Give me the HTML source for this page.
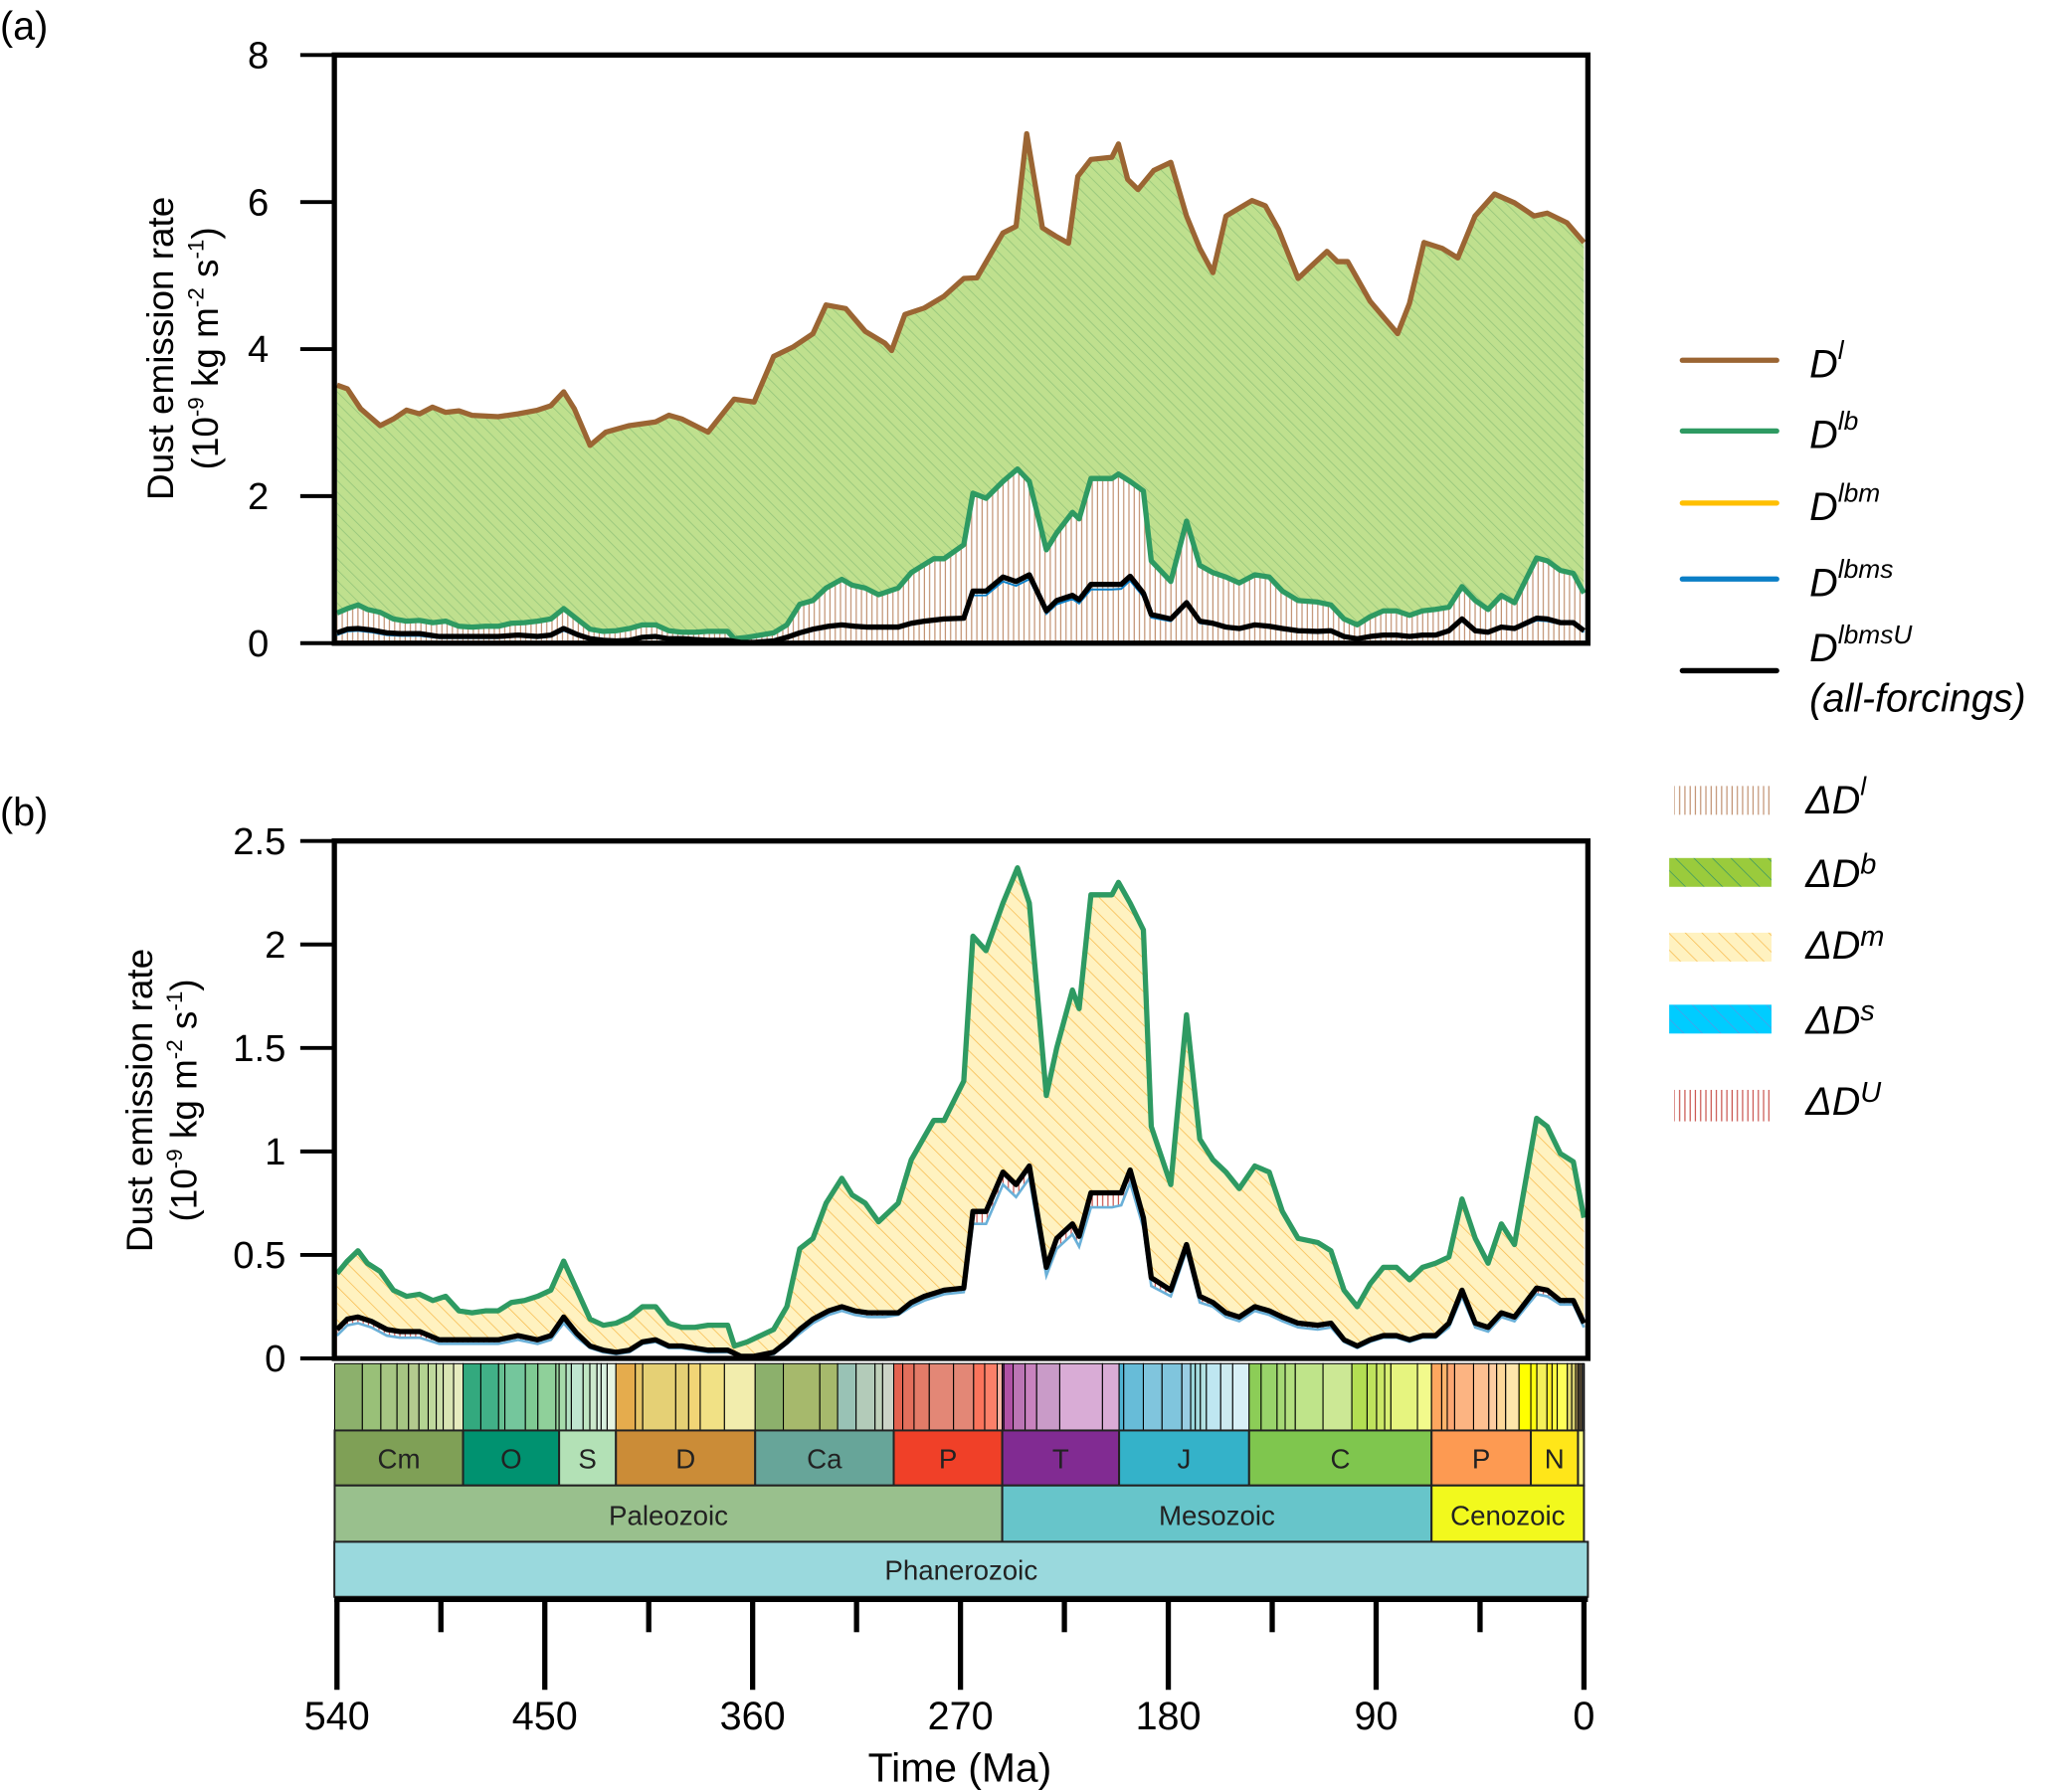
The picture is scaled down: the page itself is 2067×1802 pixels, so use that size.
<!DOCTYPE html>
<html><head><meta charset="utf-8"><style>
html,body{margin:0;padding:0;background:#fff;}
svg{display:block;font-family:"Liberation Sans",sans-serif;}
</style></head><body>
<svg id="chart" xmlns="http://www.w3.org/2000/svg" width="2067" height="1802" viewBox="0 0 1568 1368" preserveAspectRatio="none">
<defs>
<pattern id="pGreen" patternUnits="userSpaceOnUse" width="6" height="6" patternTransform="rotate(-45)">
<rect width="6" height="6" fill="#bfe08e"/><line x1="0" y1="0" x2="0" y2="6" stroke="#93c47a" stroke-width="1.2"/></pattern>
<pattern id="pBrownV" patternUnits="userSpaceOnUse" width="4" height="4">
<rect width="4" height="4" fill="#fff"/><line x1="1" y1="0" x2="1" y2="4" stroke="#c09070" stroke-width="0.9"/></pattern>
<pattern id="pYellow" patternUnits="userSpaceOnUse" width="9" height="9" patternTransform="rotate(-45)">
<rect width="9" height="9" fill="#fff2c0"/><line x1="0" y1="0" x2="0" y2="9" stroke="#f7b94a" stroke-width="1.1"/></pattern>
<pattern id="pRedV" patternUnits="userSpaceOnUse" width="4" height="4">
<rect width="4" height="4" fill="#fff"/><line x1="1" y1="0" x2="1" y2="4" stroke="#c8504a" stroke-width="0.9"/></pattern>
<pattern id="pLegGreen" patternUnits="userSpaceOnUse" width="10" height="10" patternTransform="rotate(-45)">
<rect width="10" height="10" fill="#9acb3c"/><line x1="0" y1="0" x2="0" y2="10" stroke="#2f8f6a" stroke-width="1"/></pattern>
<pattern id="pLegBlue" patternUnits="userSpaceOnUse" width="10" height="10" patternTransform="rotate(-45)">
<rect width="10" height="10" fill="#00ccff"/><line x1="0" y1="0" x2="0" y2="10" stroke="#6a8ae0" stroke-width="0.8"/></pattern>
<clipPath id="clipA"><rect x="255" y="42" width="956" height="449"/></clipPath>
<clipPath id="clipB"><rect x="255" y="642" width="956" height="395"/></clipPath>
</defs>
<g id="plotA"></g>
<g id="plotB"></g>
<g id="tscale"></g>
<g id="axes"></g>

<text x="0" y="30" font-size="30">(a)</text>
<text x="0" y="630" font-size="30">(b)</text>

<g font-size="28" text-anchor="middle">
<text transform="translate(132,266) rotate(-90)">Dust emission rate</text>
<text transform="translate(166,266) rotate(-90)">(10<tspan font-size="17" dy="-11">-9</tspan><tspan dy="11"> kg m</tspan><tspan font-size="17" dy="-11">-2</tspan><tspan dy="11"> s</tspan><tspan font-size="17" dy="-11">-1</tspan><tspan dy="11">)</tspan></text>
</g>
<g font-size="28" text-anchor="middle">
<text transform="translate(116,840) rotate(-90)">Dust emission rate</text>
<text transform="translate(150,840) rotate(-90)">(10<tspan font-size="17" dy="-11">-9</tspan><tspan dy="11"> kg m</tspan><tspan font-size="17" dy="-11">-2</tspan><tspan dy="11"> s</tspan><tspan font-size="17" dy="-11">-1</tspan><tspan dy="11">)</tspan></text>
</g>
<text x="732" y="1360" font-size="31" text-anchor="middle">Time (Ma)</text>

<g font-size="30" font-style="italic">
<g><line x1="1283" y1="275" x2="1355" y2="275" stroke="#9b6533" stroke-width="4" stroke-linecap="round"/><text x="1380" y="288">D<tspan font-size="20" dy="-14">l</tspan></text></g>
<g><line x1="1283" y1="329" x2="1355" y2="329" stroke="#2e9a62" stroke-width="4" stroke-linecap="round"/><text x="1380" y="342">D<tspan font-size="20" dy="-14">lb</tspan></text></g>
<g><line x1="1283" y1="384" x2="1355" y2="384" stroke="#ffbf00" stroke-width="4" stroke-linecap="round"/><text x="1380" y="397">D<tspan font-size="20" dy="-14">lbm</tspan></text></g>
<g><line x1="1283" y1="442" x2="1355" y2="442" stroke="#0a7ec6" stroke-width="4" stroke-linecap="round"/><text x="1380" y="455">D<tspan font-size="20" dy="-14">lbms</tspan></text></g>
<g><line x1="1283" y1="512" x2="1355" y2="512" stroke="#000" stroke-width="4" stroke-linecap="round"/><text x="1380" y="505">D<tspan font-size="20" dy="-14">lbmsU</tspan></text><text x="1380" y="543">(all-forcings)</text></g>
<g><rect x="1277" y="600" width="74" height="22" fill="url(#pBrownV)"/><text x="1377" y="621">ΔD<tspan font-size="20" dy="-14">l</tspan></text></g>
<g><rect x="1273" y="655" width="78" height="22" fill="url(#pLegGreen)"/><text x="1377" y="677">ΔD<tspan font-size="22" dy="-10">b</tspan></text></g>
<g><rect x="1273" y="712" width="78" height="22" fill="url(#pYellow)"/><text x="1377" y="732">ΔD<tspan font-size="22" dy="-10">m</tspan></text></g>
<g><rect x="1273" y="767" width="78" height="22" fill="url(#pLegBlue)"/><text x="1377" y="789">ΔD<tspan font-size="22" dy="-10">s</tspan></text></g>
<g><rect x="1277" y="832" width="74" height="24" fill="url(#pRedV)"/><text x="1377" y="851">ΔD<tspan font-size="22" dy="-10">U</tspan></text></g>
</g>
</svg>
<script>
// ---- data (Ma, 10^-9 kg m^-2 s^-1) ----
const dlTimes=[540,535.5,529.8,521.3,515.6,509.9,504.2,498.6,492.9,487.2,481.5,470.2,461.6,453.1,447.4,441.8,437.2,430.4,423.6,413.4,402.0,396.3,390.7,379.3,368.0,359.4,350.9,342.4,333.9,328.2,319.7,311.2,302.7,299.8,294.1,285.6,277.1,268.6,262.9,251.6,245.9,241.3,234.5,228.9,223.2,219.2,213.5,204.4,201.6,197.6,193.1,186.3,178.9,172.1,166.4,160.7,155.0,143.7,138.0,132.3,123.8,118.1,111.3,106.8,102.3,92.6,80.7,75.6,69.3,61.4,54.6,47.2,38.7,30.1,21.6,15.9,7.4,0];
const dlValues=[3.51,3.46,3.19,2.96,3.05,3.17,3.12,3.21,3.14,3.16,3.10,3.08,3.12,3.17,3.23,3.42,3.19,2.69,2.87,2.96,3.01,3.10,3.05,2.87,3.32,3.28,3.90,4.03,4.21,4.60,4.55,4.24,4.08,3.98,4.47,4.56,4.72,4.96,4.97,5.58,5.67,6.93,5.65,5.54,5.44,6.35,6.58,6.61,6.79,6.31,6.17,6.43,6.54,5.81,5.37,5.04,5.81,6.02,5.95,5.63,4.96,5.13,5.33,5.19,5.19,4.65,4.21,4.62,5.45,5.37,5.24,5.81,6.11,5.99,5.81,5.85,5.72,5.45];
const dlbTimes=[540,535.5,530.9,526.9,521.3,515.6,509.9,504.2,498.5,492.9,487.2,481.5,475.8,470.2,464.5,458.8,453.1,447.4,441.8,436.1,430.4,424.7,419.1,413.4,407.7,402.0,396.3,390.7,385.0,379.3,370.8,367.9,362.3,356.6,350.9,345.2,339.6,333.9,328.2,321.4,316.9,311.2,305.5,297.0,291.3,281.6,277.1,268.6,264.6,258.9,251.6,245.3,240.2,232.8,228.3,221.5,218.6,213.5,204.4,201.6,196.5,190.8,187.4,178.9,172.1,166.4,160.7,155.0,149.3,142.5,136.3,130.6,123.8,115.3,109.6,103.9,98.2,92.6,86.9,81.2,75.5,69.9,64.2,58.5,52.8,47.1,41.5,35.8,30.1,20.5,15.9,10.2,4.6,0];
const dlbValues=[0.41,0.47,0.52,0.46,0.42,0.33,0.30,0.31,0.28,0.30,0.23,0.22,0.23,0.23,0.27,0.28,0.30,0.33,0.47,0.33,0.19,0.16,0.17,0.20,0.25,0.25,0.17,0.15,0.15,0.16,0.16,0.06,0.08,0.11,0.14,0.25,0.53,0.58,0.75,0.87,0.79,0.75,0.66,0.75,0.96,1.15,1.15,1.34,2.04,1.97,2.20,2.37,2.20,1.27,1.50,1.78,1.69,2.24,2.24,2.30,2.20,2.07,1.12,0.84,1.66,1.06,0.96,0.90,0.82,0.93,0.90,0.71,0.58,0.56,0.52,0.33,0.25,0.36,0.44,0.44,0.38,0.44,0.46,0.49,0.77,0.58,0.46,0.65,0.55,1.16,1.12,0.99,0.95,0.68];
const allTimes=[540,535.5,530.9,525.2,518.4,512.7,504.2,495.7,487.2,478.7,470.2,461.6,453.1,447.4,441.8,436.1,430.4,424.7,419.1,413.4,407.7,402.0,396.3,390.7,379.3,370.8,365.1,359.4,350.9,345.2,339.6,333.9,327.1,321.4,315.7,310.0,302.7,297.0,291.3,285.6,277.1,268.6,264.6,258.9,251.6,245.9,240.2,232.8,228.3,221.5,218.6,213.5,204.4,200.4,196.5,190.8,187.4,178.9,172.1,166.4,160.7,155.0,149.3,142.5,136.3,130.6,123.8,115.3,109.6,103.9,98.2,92.6,86.9,81.2,75.5,69.9,64.2,58.5,52.8,47.1,41.5,35.8,30.1,20.5,15.9,10.2,4.6,0];
const dlbmsuValues=[0.14,0.19,0.20,0.18,0.14,0.13,0.13,0.09,0.09,0.09,0.09,0.11,0.09,0.11,0.20,0.12,0.06,0.04,0.03,0.04,0.08,0.09,0.06,0.06,0.04,0.04,0.01,0.01,0.03,0.08,0.14,0.19,0.23,0.25,0.23,0.22,0.22,0.22,0.27,0.30,0.33,0.34,0.71,0.71,0.90,0.84,0.93,0.44,0.58,0.65,0.59,0.80,0.80,0.80,0.91,0.68,0.39,0.33,0.55,0.30,0.27,0.22,0.20,0.25,0.23,0.20,0.17,0.16,0.17,0.09,0.06,0.09,0.11,0.11,0.09,0.11,0.11,0.17,0.33,0.17,0.15,0.22,0.20,0.34,0.33,0.28,0.28,0.17];
const dlbmsValues=[0.11,0.16,0.17,0.15,0.11,0.10,0.10,0.07,0.07,0.07,0.07,0.09,0.07,0.09,0.17,0.10,0.05,0.03,0.02,0.03,0.07,0.08,0.05,0.05,0.03,0.03,0.01,0.01,0.02,0.07,0.12,0.17,0.21,0.23,0.21,0.20,0.20,0.21,0.25,0.28,0.31,0.32,0.65,0.65,0.84,0.78,0.87,0.40,0.53,0.60,0.54,0.73,0.73,0.74,0.85,0.63,0.35,0.30,0.52,0.27,0.25,0.20,0.18,0.23,0.21,0.18,0.15,0.14,0.15,0.08,0.05,0.08,0.10,0.10,0.08,0.10,0.10,0.15,0.30,0.15,0.13,0.20,0.18,0.31,0.30,0.26,0.26,0.15];
const tickTimes=[540,450,360,270,180,90,0];
const minorTimes=[495,405,315,225,135,45];
const ticksA=[0,2,4,6,8];
const ticksB=["0","0.5","1","1.5","2","2.5"];
const periods=[["Cm",541,485.4,"#7fa056"],["O",485.4,443.8,"#009270"],["S",443.8,419.2,"#b3e1b6"],["D",419.2,358.9,"#cb8c37"],["Ca",358.9,298.9,"#67a599"],["P",298.9,251.9,"#f04028"],["T",251.9,201.3,"#812b92"],["J",201.3,145,"#34b2c9"],["C",145,66,"#7fc64e"],["P",66,23,"#fd9a52"],["N",23,2.58,"#ffe619"],["Q",2.58,0,"#f9f97f"]];
const eras=[["Paleozoic",541,251.9,"#99c08d"],["Mesozoic",251.9,66,"#67c5ca"],["Cenozoic",66,0,"#f2f91d"]];
const stageBounds=[541,529,521,514,509,504.5,500.5,497,494,489.5,485.4,477.7,470,467.3,458.4,453,445.2,443.8,440.8,438.5,433.4,430.5,427.4,425.6,423,419.2,410.8,407.6,393.3,387.7,382.7,372.2,358.9,346.7,330.9,323.2,315.2,307,303.7,298.9,295,290.1,283.5,273,264.3,259.5,254.1,251.9,251.2,247.2,242,237,227,208.5,201.3,199.3,190.8,182.7,174.1,170.3,168.3,166.1,163.5,157.3,152.1,145,139.8,132.9,129.4,125,113,100.5,93.9,89.8,86.3,83.6,72.1,66,61.6,59.2,56,47.8,41.2,37.8,33.9,28.1,23,20.4,16,13.8,11.6,7.2,5.3,3.6,2.58,1.8,0.8,0.13,0];
const stageColors=["#8cb06c","#99c078","#a6c583","#a6c583","#b3ca8e","#b3d492","#bfd99d","#ccdfaa","#d9e5b4","#e6ecbf","#33a97e","#41b087","#66c092","#74c69c","#7fca93","#8fd09a","#99d69f","#a6dbab","#b3e1c2","#bfe6cf","#bfe6c3","#cce9cd","#d9f0df","#d9f0df","#e6f5e1","#e5ac4d","#e5c468","#e5d075","#e5d075","#f1d576","#f1e185","#f2edad","#8cb06c","#a6b96c","#a6b96c","#99c2b5","#b3cbb9","#bfd0ba","#ccd4c7","#e36350","#e36f5c","#e37b68","#e38776","#e38776","#fb745c","#fb8069","#fcb4a2","#a4469f","#b051a5","#bc75b5","#c983bf","#c99bc8","#d9acd6","#d9acd6","#4eb3d3","#67bcd8","#80c5dd","#80c5dd","#99cee3","#9ad9dd","#a6dde0","#b3e2e3","#bfe7f1","#cceaef","#d9f1f7","#8ccd57","#99d36a","#a6d975","#b3df7f","#bfe48a","#cce895","#b3de53","#bfe35d","#cce867","#d9ef74","#e6f47f","#f2fa8c","#fda75f","#fdb46c","#fca773","#fcb482","#fdc091","#fdcda1","#fed99a","#fee6aa","#ffff00","#ffff10","#f5f05a","#fff028","#ffff41","#ffff59","#e8e070","#d8d070","#b8a060","#a09070","#807050"];

// ---- scales ----
const xL=257,xR=1208;
function X(t){return xL+(540-t)*(xR-xL)/540;}
function YA(v){return 491-v*(491-42)/8;}
function YB(v){return 1037-v*(1037-642)/2.5;}
const NS="http://www.w3.org/2000/svg";
function mk(tag,attrs,parent){const e=document.createElementNS(NS,tag);for(const k in attrs)e.setAttribute(k,attrs[k]);parent.appendChild(e);return e;}
function linePts(ts,vs,Y){return ts.map((t,i)=>X(t).toFixed(1)+","+Y(vs[i]).toFixed(1)).join(" ");}
function areaPts(ts,vs,Y){return X(ts[0])+","+Y(0)+" "+linePts(ts,vs,Y)+" "+X(ts[ts.length-1])+","+Y(0);}

// ---- panel A ----
const gA=document.getElementById('plotA');
const cA=mk('g',{'clip-path':'url(#clipA)'},gA);
let e;
e=mk('polygon',{points:areaPts(dlTimes,dlValues,YA),fill:'url(#pGreen)'},cA);


e=mk('polygon',{points:areaPts(dlbTimes,dlbValues,YA),fill:'url(#pBrownV)'},cA);


e=mk('polyline',{points:linePts(dlbTimes,dlbValues,YA),fill:'none',stroke:'#2e9a62','stroke-width':4,'stroke-linejoin':'round'},cA);


e=mk('polyline',{points:linePts(allTimes,dlbmsValues,YA),fill:'none',stroke:'#0a7ec6','stroke-width':1.5},cA);


e=mk('polyline',{points:linePts(allTimes,dlbmsuValues,YA),fill:'none',stroke:'#000','stroke-width':4,'stroke-linejoin':'round'},cA);


e=mk('polyline',{points:linePts(dlTimes,dlValues,YA),fill:'none',stroke:'#9b6533','stroke-width':4,'stroke-linejoin':'round'},cA);



// ---- panel B ----
const gB=document.getElementById('plotB');
const cB=mk('g',{'clip-path':'url(#clipB)'},gB);
e=mk('polygon',{points:areaPts(dlbTimes,dlbValues,YB),fill:'url(#pYellow)'},cB);


e=mk('polygon',{points:areaPts(allTimes,dlbmsuValues,YB),fill:'url(#pRedV)'},cB);


e=mk('polygon',{points:areaPts(allTimes,dlbmsValues,YB),fill:'#fff'},cB);


e=mk('polyline',{points:linePts(allTimes,dlbmsValues,YB),fill:'none',stroke:'#6ab0d8','stroke-width':2},cB);


e=mk('polyline',{points:linePts(dlbTimes,dlbValues,YB),fill:'none',stroke:'#2e9a62','stroke-width':4,'stroke-linejoin':'round'},cB);


e=mk('polyline',{points:linePts(allTimes,dlbmsuValues,YB),fill:'none',stroke:'#000','stroke-width':4,'stroke-linejoin':'round'},cB);



// ---- axes ----
const ax=document.getElementById('axes');
e=mk('rect',{x:255,y:42,width:956,height:449,fill:'none',stroke:'#000','stroke-width':4},ax);


e=mk('rect',{x:255,y:642,width:956,height:395,fill:'none',stroke:'#000','stroke-width':4},ax);


ticksA.forEach(v=>{
  mk('line',{x1:229,x2:255,y1:YA(v),y2:YA(v),stroke:'#000','stroke-width':3},ax);
  e=mk('text',{x:197,y:YA(v)+10,'font-size':29,'text-anchor':'middle'},ax);
  e.textContent=v;
  
  
});
ticksB.forEach(s=>{
  const v=parseFloat(s);
  mk('line',{x1:229,x2:255,y1:YB(v),y2:YB(v),stroke:'#000','stroke-width':3},ax);
  e=mk('text',{x:218,y:YB(v)+10,'font-size':29,'text-anchor':'end'},ax);
  e.textContent=s;
  
  
});
mk('line',{x1:255,x2:1211,y1:1221,y2:1221,stroke:'#000','stroke-width':4},ax);
tickTimes.forEach(t=>{
  mk('line',{x1:X(t),x2:X(t),y1:1221,y2:1290,stroke:'#000','stroke-width':4},ax);
  e=mk('text',{x:X(t),y:1320,'font-size':30,'text-anchor':'middle'},ax);
  e.textContent=t;
  
  
});
minorTimes.forEach(t=>{mk('line',{x1:X(t),x2:X(t),y1:1221,y2:1246,stroke:'#000','stroke-width':4},ax);});

// ---- timescale ----
const ts=document.getElementById('tscale');
function TX(t){return Math.max(255,Math.min(1211,X(t)));}
for(let i=0;i<stageBounds.length-1;i++){
  e=mk('rect',{x:TX(stageBounds[i]),y:1041,width:Math.max(0.5,TX(stageBounds[i+1])-TX(stageBounds[i])),height:51,fill:stageColors[i]||'#ccc',stroke:'#000','stroke-width':0.8},ts);
  
  
}
periods.forEach(p=>{
  const x0=TX(p[1]),x1=TX(p[2]);
  e=mk('rect',{x:x0,y:1092,width:x1-x0,height:42,fill:p[3],stroke:'#222','stroke-width':1.5},ts);
  
  
  if(x1-x0>10){e=mk('text',{x:(x0+x1)/2,y:1121,'font-size':21,'text-anchor':'middle',fill:'#222'},ts);e.textContent=p[0];
  
  }
});
eras.forEach(p=>{
  const x0=TX(p[1]),x1=TX(p[2]);
  e=mk('rect',{x:x0,y:1134,width:x1-x0,height:43,fill:p[3],stroke:'#222','stroke-width':1.5},ts);
  
  
  e=mk('text',{x:(x0+x1)/2,y:1164,'font-size':21,'text-anchor':'middle',fill:'#222'},ts);e.textContent=p[0];
  
  
});
e=mk('rect',{x:255,y:1177,width:956,height:42,fill:'#9ad9dd',stroke:'#222','stroke-width':1.5},ts);


e=mk('text',{x:733,y:1206,'font-size':21,'text-anchor':'middle',fill:'#222'},ts);e.textContent='Phanerozoic';


</script>
</body></html>
